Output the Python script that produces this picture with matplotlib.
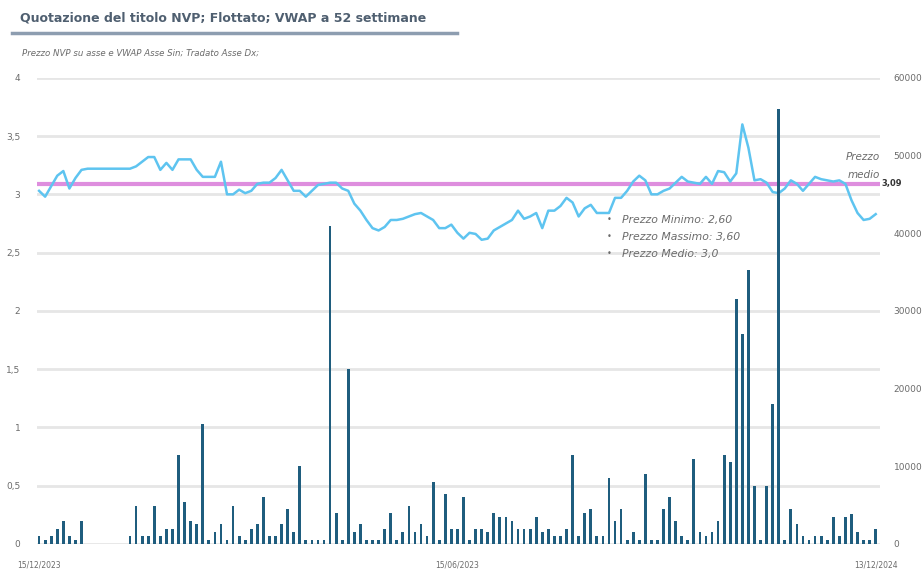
import matplotlib
matplotlib.use("Agg")
import matplotlib.pyplot as plt
import numpy as np

# volumi scambiati (asse dx)
volumi = [x * 15000 for x in [
    0.07, 0.03, 0.07, 0.13, 0.2, 0.07, 0.03, 0.2,
    0, 0, 0, 0, 0, 0, 0,
    0.07, 0.33, 0.07, 0.07, 0.33, 0.07, 0.13, 0.13, 0.76, 0.36,
    0.2, 0.17, 1.03, 0.03, 0.1, 0.17, 0.03, 0.33, 0.07, 0.03,
    0.13, 0.17, 0.4, 0.07, 0.07, 0.17, 0.3, 0.1, 0.67, 0.03,
    0.03, 0.03, 0.03, 2.73, 0.27, 0.03, 1.5, 0.1, 0.17, 0.03,
    0.03, 0.03, 0.13, 0.27, 0.03, 0.1, 0.33, 0.1, 0.17, 0.07,
    0.53, 0.03, 0.43, 0.13, 0.13, 0.4, 0.03, 0.13, 0.13, 0.1,
    0.27, 0.23, 0.23, 0.2, 0.13, 0.13, 0.13, 0.23, 0.1, 0.13,
    0.07, 0.07, 0.13, 0.76, 0.07, 0.27, 0.3, 0.07, 0.07, 0.57,
    0.2, 0.3, 0.03, 0.1, 0.03, 0.6, 0.03, 0.03, 0.3, 0.4,
    0.2, 0.07, 0.03, 0.73, 0.1, 0.07, 0.1, 0.2, 0.76, 0.7,
    2.1, 1.8, 2.35, 0.5, 0.03, 0.5, 1.2, 3.73, 0.03, 0.3,
    0.17, 0.07, 0.03, 0.07, 0.07, 0.03, 0.23, 0.07, 0.23, 0.26,
    0.1, 0.03, 0.03, 0.13]]

# prezzo NVP (asse sx)
prezzo = [
    3.03, 2.98, 3.07, 3.16, 3.20, 3.05, 3.14, 3.21,
    3.22, 3.22, 3.22, 3.22, 3.22, 3.22, 3.22,
    3.22, 3.24, 3.28, 3.32, 3.32, 3.21, 3.27, 3.21, 3.30, 3.30,
    3.30, 3.21, 3.15, 3.15, 3.15, 3.28, 3.00, 3.00, 3.04, 3.01,
    3.03, 3.09, 3.10, 3.10, 3.14, 3.21, 3.12, 3.03, 3.03, 2.98,
    3.03, 3.08, 3.09, 3.10, 3.10, 3.05, 3.03, 2.92, 2.86, 2.78,
    2.71, 2.69, 2.72, 2.78, 2.78, 2.79, 2.81, 2.83, 2.84, 2.81,
    2.78, 2.71, 2.71, 2.74, 2.67, 2.62, 2.67, 2.66, 2.61, 2.62,
    2.69, 2.72, 2.75, 2.78, 2.86, 2.79, 2.81, 2.84, 2.71, 2.86,
    2.86, 2.90, 2.97, 2.93, 2.81, 2.88, 2.91, 2.84, 2.84, 2.84,
    2.97, 2.97, 3.03, 3.11, 3.16, 3.12, 3.00, 3.00, 3.03, 3.05,
    3.10, 3.15, 3.11, 3.10, 3.09, 3.15, 3.09, 3.20, 3.19, 3.11,
    3.18, 3.60, 3.40, 3.12, 3.13, 3.10, 3.02, 3.01, 3.05, 3.12,
    3.09, 3.03, 3.09, 3.15, 3.13, 3.12, 3.11, 3.12, 3.09, 2.95,
    2.84, 2.78, 2.79, 2.83]

prezzo_medio = 3.09
date_label = ["15/12/2023", "15/06/2023", "13/12/2024"]
statistiche = ["Prezzo Minimo: 2,60", "Prezzo Massimo: 3,60", "Prezzo Medio: 3,0"]

x = np.arange(len(prezzo))
grigio = "#6b6b6b"

fig = plt.figure(figsize=(9.24, 5.72), dpi=100)
ax = fig.add_axes([0.040, 0.049, 0.912, 0.815])
ax2 = ax.twinx()

# griglia e linee
ax.set_ylim(0, 4)
ax.set_yticks(np.arange(0, 4.01, 0.5))
ax.set_yticklabels(["0", "0,5", "1", "1,5", "2", "2,5", "3", "3,5", "4"])
ax.grid(axis="y", color="#e6e6e6", linewidth=2)
ax.set_axisbelow(True)
ax.plot(x, prezzo, color="#5ec4f0", linewidth=1.8, zorder=3)
ax.axhline(prezzo_medio, color="#de8ede", linewidth=3, zorder=2)

ax2.bar(x, volumi, width=0.45, color="#1f5d7e")
ax2.set_ylim(0, 60000)
ax2.set_yticks(np.arange(0, 60001, 10000))

ax.set_xlim(-0.35, len(prezzo) - 0.35)
ax.set_xticks([0, (len(prezzo) - 1) / 2, len(prezzo) - 1])
ax.set_xticklabels(date_label)

for a in (ax, ax2):
    for s in a.spines.values():
        s.set_visible(False)
    a.tick_params(length=0, labelsize=6.5, colors=grigio)
ax.tick_params(axis="y", pad=12)
ax2.tick_params(axis="y", pad=10)
ax.tick_params(axis="x", labelsize=5.5, pad=12)

# annotazioni
ax.text(1.0, 0.811, "Prezzo\nmedio", transform=ax.transAxes, ha="right",
        va="center", fontsize=7.5, style="italic", color=grigio, linespacing=1.9)
ax.text(1.002, prezzo_medio, "3,09", transform=ax.get_yaxis_transform(),
        ha="left", va="center", fontsize=6, fontweight="bold", color="#333333")
for i, t in enumerate(statistiche):
    yy = 0.695 - i * 0.036
    ax.text(0.676, yy, "\u2022", transform=ax.transAxes, fontsize=6,
            color=grigio, va="center")
    ax.text(0.694, yy, t, transform=ax.transAxes, fontsize=7.8,
            style="italic", color=grigio, va="center")

# titolo
fig.text(0.022, 0.968, "Quotazione del titolo NVP; Flottato; VWAP a 52 settimane",
         fontsize=9, fontweight="bold", color="#4f5f70", va="center")
fig.add_artist(plt.Line2D([0.013, 0.495], [0.942, 0.942], color="#8d9db0",
                          linewidth=2.5, transform=fig.transFigure))
fig.text(0.024, 0.907, "Prezzo NVP su asse e VWAP Asse Sin; Tradato Asse Dx;",
         fontsize=6.2, style="italic", color=grigio, va="center")

fig.savefig("out.png", dpi=100)
